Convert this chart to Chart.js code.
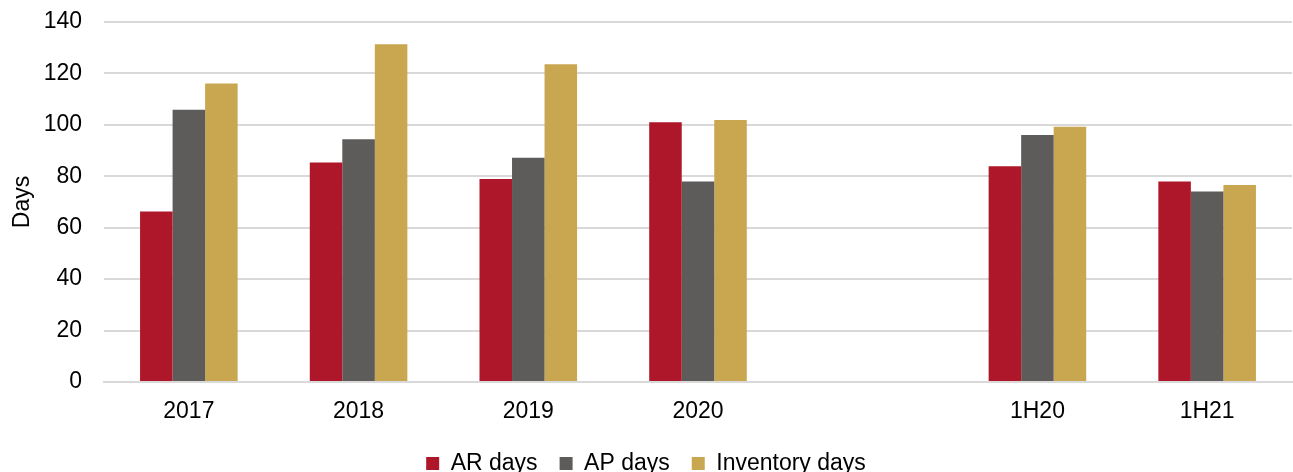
<!DOCTYPE html>
<html>
<head>
<meta charset="utf-8">
<script src="https://cdn.jsdelivr.net/npm/chart.js@4/dist/chart.umd.min.js"></script>
<style>
  html, body { margin: 0; padding: 0; background: #ffffff; }
  #wrap { width: 1293px; height: 472px; position: relative; }
</style>
</head>
<body>
<div id="wrap"><canvas id="chart" width="1293" height="472"></canvas></div>
<script>
// Working-capital days by period (the blank slot separates full years from half years)
const categories = ['2017', '2018', '2019', '2020', '', '1H20', '1H21'];
const arDays = [66.3, 85.4, 78.9, 101.0, null, 83.9, 78.0];
const apDays = [105.9, 94.4, 87.2, 78.0, null, 96.1, 74.1];
const inventoryDays = [116.1, 131.3, 123.6, 101.9, null, 99.3, 76.6];
const yTicks = [0, 20, 40, 60, 80, 100, 120, 140];

const FONT = "'Liberation Sans', Arial, sans-serif";
const SIZE = 23;
Chart.defaults.font.family = FONT;
Chart.defaults.color = '#000000';

new Chart(document.getElementById('chart'), {
  type: 'bar',
  data: {
    labels: categories,
    datasets: [
      { label: 'AR days', data: arDays, backgroundColor: '#AD1729' },
      { label: 'AP days', data: apDays, backgroundColor: '#5E5C5A' },
      { label: 'Inventory days', data: inventoryDays, backgroundColor: '#C9A751' }
    ]
  },
  options: {
    responsive: false,
    animation: false,
    devicePixelRatio: 1,
    // the legend's own padding spills past the bottom edge
    layout: { padding: { left: 0, right: 1, top: 0, bottom: -13 } },
    datasets: {
      bar: { categoryPercentage: 0.575, barPercentage: 1.0, borderWidth: 0 }
    },
    scales: {
      x: {
        grid: { display: false, drawTicks: false },
        border: { display: true, color: '#D9D9D9', width: 2 },
        ticks: { font: { size: SIZE, family: FONT }, color: '#000', padding: 16, maxRotation: 0 },
        afterFit: (s) => { s.height = 48; }
      },
      y: {
        min: 0,
        max: 140,
        afterBuildTicks: (s) => { s.ticks = yTicks.map(v => ({ value: v })); },
        grid: { color: '#D9D9D9', lineWidth: 2, drawTicks: false },
        border: { display: false },
        ticks: { font: { size: SIZE, family: FONT }, color: '#000', padding: 22 },
        title: { display: true, text: 'Days', font: { size: SIZE, family: FONT }, color: '#000', padding: { top: 9, bottom: 0 } },
        afterFit: (s) => { s.width = 104; s.paddingTop = 22; s.paddingBottom = 0; }
      }
    },
    plugins: {
      legend: {
        position: 'bottom',
        labels: {
          font: { size: SIZE, family: FONT },
          color: '#000',
          boxWidth: 13,
          boxHeight: 13,
          padding: 22
        }
      },
      tooltip: { enabled: false }
    }
  }
});
</script>
</body>
</html>
